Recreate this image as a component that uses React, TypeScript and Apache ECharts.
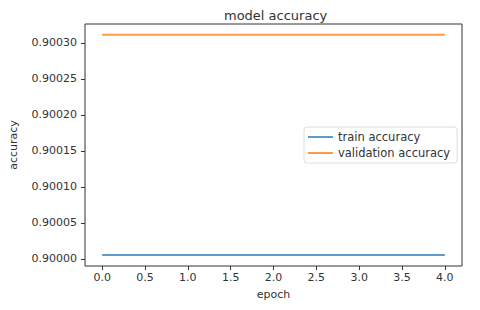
import React, { useEffect, useRef } from "react";
import * as echarts from "echarts";

const epochs = [0, 1, 2, 3, 4];
const trainAccuracy = [0.9000054, 0.9000054, 0.9000054, 0.9000054, 0.9000054];
const valAccuracy = [0.9003115, 0.9003115, 0.9003115, 0.9003115, 0.9003115];
const xTicks = [0, 0.5, 1, 1.5, 2, 2.5, 3, 3.5, 4];
const yTicks = [0.9, 0.90005, 0.9001, 0.90015, 0.9002, 0.90025, 0.9003];

export default function App() {
  const ref = useRef<HTMLDivElement>(null);
  useEffect(() => {
    if (!ref.current) return;
    const chart = echarts.init(ref.current, undefined, { renderer: "svg" });
    const font = "DejaVu Sans";
    const textColor = "#333";
    chart.setOption({
      animation: false,
      backgroundColor: "#fff",
      textStyle: { fontFamily: font },
      title: {
        text: "model accuracy",
        left: 219,
        top: 4,
        textStyle: { fontFamily: font, fontSize: 13, fontWeight: "normal", color: textColor },
      },
      grid: {
        left: 82,
        right: 18,
        top: 24,
        bottom: 44,
        show: true,
        borderColor: "#333",
        borderWidth: 1,
        backgroundColor: "transparent",
      },
      legend: {
        orient: "vertical",
        left: 304,
        top: 127,
        padding: [4, 7, 4, 4],
        itemGap: 4,
        itemWidth: 25,
        itemHeight: 2,
        icon: "rect",
        borderColor: "#ddd",
        borderWidth: 1,
        borderRadius: 3,
        backgroundColor: "#fff",
        textStyle: { fontFamily: font, fontSize: 11.5, color: textColor },
        data: ["train accuracy", "validation accuracy"],
      },
      xAxis: {
        type: "value",
        min: -0.2,
        max: 4.2,
        name: "epoch",
        nameLocation: "middle",
        nameGap: 23,
        nameTextStyle: { fontFamily: font, fontSize: 11, color: textColor },
        axisLine: { show: false, onZero: false },
        axisTick: { show: true, inside: false, length: 4, lineStyle: { color: "#333" }, customValues: xTicks },
        axisLabel: {
          fontFamily: font,
          fontSize: 11,
          color: textColor,
          margin: 6,
          customValues: xTicks,
          formatter: (v: number) => v.toFixed(1),
        },
        splitLine: { show: false },
      },
      yAxis: {
        type: "value",
        min: 0.89999,
        max: 0.9003263,
        name: "accuracy",
        nameLocation: "middle",
        nameGap: 66,
        nameTextStyle: { fontFamily: font, fontSize: 11, color: textColor },
        axisLine: { show: false, onZero: false },
        axisTick: { show: true, inside: false, length: 4, lineStyle: { color: "#333" }, customValues: yTicks },
        axisLabel: {
          fontFamily: font,
          fontSize: 11,
          color: textColor,
          margin: 8,
          customValues: yTicks,
          formatter: (v: number) => v.toFixed(5),
        },
        splitLine: { show: false },
      },
      series: [
        {
          name: "train accuracy",
          type: "line",
          data: epochs.map((e, i) => [e, trainAccuracy[i]]),
          symbol: "none",
          lineStyle: { color: "#5b9bd0", width: 2 },
          itemStyle: { color: "#5b9bd0" },
        },
        {
          name: "validation accuracy",
          type: "line",
          data: epochs.map((e, i) => [e, valAccuracy[i]]),
          symbol: "none",
          lineStyle: { color: "#ff9a45", width: 2 },
          itemStyle: { color: "#ff9a45" },
        },
      ],
    });
    return () => chart.dispose();
  }, []);
  return (
    <div
      ref={ref}
      style={{ position: "fixed", left: 0, top: 0, width: 480, height: 310 }}
    />
  );
}
